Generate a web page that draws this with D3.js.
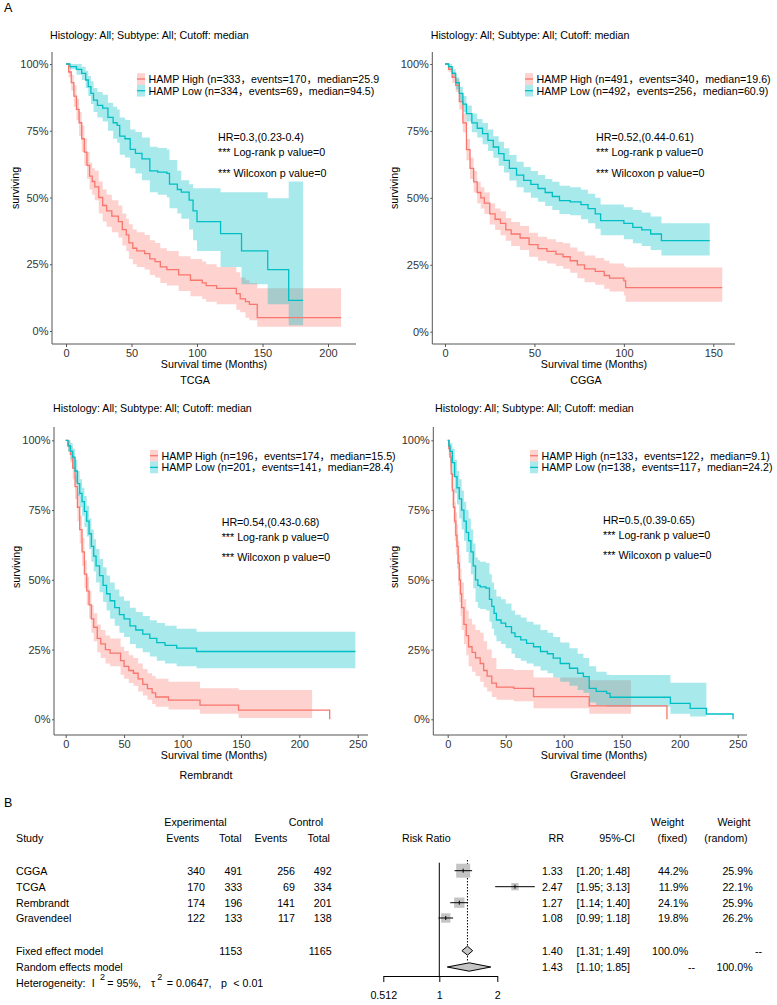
<!DOCTYPE html>
<html><head><meta charset="utf-8">
<script src="https://cdnjs.cloudflare.com/ajax/libs/d3/7.8.5/d3.min.js"></script>
<style>
body{margin:0;background:#fff;}
svg{display:block;font-family:"Liberation Sans",Arial,"Noto Sans CJK SC",sans-serif;}
</style></head><body>
<svg id="c" width="777" height="1005"></svg>
<script>
// ---------- Kaplan-Meier data: [time, surv, lower, upper] ----------
const tcgaHigh = [[0,1,1,1],[2,0.97,0.95,0.99],[4,0.93,0.9,0.96],[6,0.88,0.84,0.92],[8,0.83,0.79,0.87],[10,0.78,0.73,0.82],[12,0.72,0.67,0.77],[14,0.67,0.62,0.72],[16,0.62,0.57,0.67],[18,0.58,0.53,0.63],[20,0.56,0.51,0.61],[22,0.54,0.49,0.6],[25,0.5,0.44,0.56],[28,0.47,0.41,0.53],[31,0.45,0.39,0.51],[35,0.43,0.37,0.49],[40,0.41,0.35,0.47],[43,0.38,0.32,0.44],[46,0.36,0.3,0.42],[48,0.33,0.27,0.4],[51,0.31,0.25,0.38],[54,0.3,0.24,0.37],[60,0.29,0.23,0.36],[64,0.27,0.21,0.34],[68,0.26,0.2,0.33],[72,0.24,0.18,0.31],[77,0.23,0.17,0.3],[86,0.21,0.15,0.28],[95,0.19,0.13,0.27],[104,0.18,0.12,0.26],[107,0.17,0.11,0.25],[115,0.16,0.1,0.24],[130,0.14,0.08,0.22],[133,0.12,0.07,0.2],[137,0.11,0.05,0.19],[140,0.1,0.04,0.18],[146,0.05,0.016,0.16],[210,0.05,0.016,0.16]];
const tcgaLow = [[0,1,1,1],[3,0.99,0.98,1],[8,0.98,0.96,1],[12,0.965,0.94,0.99],[15,0.94,0.91,0.975],[17,0.915,0.88,0.955],[19,0.89,0.85,0.935],[21,0.865,0.82,0.91],[24,0.845,0.8,0.895],[28,0.835,0.785,0.885],[32,0.8,0.75,0.855],[36,0.78,0.72,0.84],[39,0.77,0.705,0.83],[41,0.73,0.66,0.8],[45,0.72,0.65,0.79],[49,0.68,0.61,0.755],[53,0.665,0.59,0.745],[58,0.645,0.565,0.725],[64,0.6,0.52,0.69],[70,0.595,0.51,0.685],[77,0.59,0.5,0.68],[79,0.55,0.46,0.64],[85,0.53,0.44,0.6],[88,0.52,0.42,0.565],[94,0.49,0.38,0.55],[97,0.45,0.34,0.535],[100,0.41,0.3,0.535],[118,0.365,0.24,0.52],[134,0.3,0.175,0.52],[154,0.23,0.1,0.497],[170,0.115,0.022,0.56],[181,0.115,0.022,0.56]];
const cggaHigh = [[0,1,1,1],[2,0.98,0.97,0.99],[4,0.95,0.93,0.97],[6,0.92,0.895,0.945],[8,0.86,0.83,0.89],[10,0.78,0.745,0.815],[12,0.68,0.64,0.72],[14,0.61,0.57,0.65],[16,0.56,0.52,0.6],[18,0.52,0.48,0.56],[20,0.5,0.46,0.54],[22,0.48,0.44,0.52],[25,0.44,0.4,0.48],[28,0.42,0.38,0.46],[31,0.405,0.36,0.45],[34,0.38,0.34,0.425],[37,0.365,0.32,0.41],[42,0.35,0.305,0.395],[47,0.325,0.28,0.37],[52,0.31,0.265,0.355],[57,0.3,0.255,0.345],[62,0.29,0.245,0.335],[66,0.28,0.235,0.33],[70,0.265,0.22,0.315],[74,0.25,0.2,0.3],[78,0.235,0.185,0.285],[84,0.225,0.175,0.275],[89,0.21,0.16,0.265],[92,0.2,0.15,0.255],[100,0.19,0.135,0.245],[101,0.165,0.112,0.24],[155,0.165,0.112,0.24]];
const cggaLow = [[0,1,1,1],[2,0.99,0.98,1],[4,0.965,0.95,0.98],[6,0.93,0.905,0.95],[8,0.89,0.865,0.915],[10,0.85,0.82,0.88],[12,0.815,0.785,0.845],[15,0.78,0.745,0.815],[18,0.76,0.725,0.795],[21,0.74,0.7,0.78],[24,0.715,0.675,0.755],[27,0.69,0.65,0.73],[30,0.665,0.62,0.71],[33,0.64,0.595,0.685],[36,0.61,0.565,0.66],[40,0.585,0.54,0.635],[44,0.565,0.52,0.615],[48,0.55,0.5,0.6],[52,0.535,0.485,0.585],[56,0.52,0.47,0.57],[60,0.505,0.455,0.56],[64,0.49,0.44,0.545],[70,0.485,0.435,0.54],[76,0.475,0.42,0.53],[80,0.46,0.405,0.515],[84,0.44,0.385,0.5],[87,0.415,0.36,0.475],[100,0.405,0.345,0.465],[105,0.39,0.33,0.455],[110,0.38,0.32,0.445],[115,0.365,0.305,0.43],[121,0.34,0.285,0.405],[148,0.34,0.285,0.405]];
const rembHigh = [[0,1,1,1],[2,0.98,0.96,1],[4,0.95,0.92,0.98],[6,0.9,0.86,0.94],[8,0.834,0.79,0.875],[10,0.76,0.71,0.81],[12,0.68,0.63,0.73],[14,0.6,0.55,0.65],[16,0.52,0.47,0.57],[18,0.46,0.41,0.51],[20,0.41,0.36,0.46],[22,0.36,0.31,0.41],[24,0.33,0.28,0.38],[27,0.29,0.24,0.34],[30,0.27,0.22,0.32],[34,0.25,0.2,0.3],[38,0.237,0.19,0.29],[45,0.237,0.19,0.29],[47,0.21,0.16,0.26],[50,0.19,0.145,0.245],[54,0.175,0.13,0.23],[58,0.165,0.12,0.22],[62,0.145,0.1,0.2],[66,0.125,0.085,0.18],[70,0.11,0.07,0.165],[74,0.095,0.055,0.155],[77,0.08,0.045,0.145],[88,0.069,0.035,0.135],[115,0.051,0.02,0.111],[148,0.033,0.005,0.105],[211,0.033,null,null],[226,0,null,null]];
const rembLow = [[0,1,1,1],[2,0.98,0.96,1],[4,0.96,0.93,0.99],[6,0.94,0.9,0.97],[8,0.89,0.85,0.93],[10,0.845,0.8,0.89],[12,0.81,0.76,0.86],[14,0.78,0.73,0.83],[16,0.745,0.69,0.8],[18,0.71,0.655,0.765],[20,0.665,0.61,0.72],[22,0.62,0.565,0.68],[24,0.585,0.53,0.645],[26,0.55,0.49,0.61],[29,0.515,0.455,0.575],[32,0.48,0.42,0.545],[35,0.45,0.39,0.515],[38,0.425,0.36,0.49],[42,0.4,0.335,0.465],[46,0.375,0.31,0.44],[50,0.36,0.295,0.425],[55,0.335,0.27,0.4],[60,0.32,0.255,0.385],[66,0.305,0.24,0.37],[72,0.29,0.225,0.355],[78,0.275,0.21,0.345],[85,0.265,0.2,0.335],[95,0.255,0.19,0.325],[112,0.243,0.183,0.314],[248,0.243,0.183,0.314]];
const gravHigh = [[0,1,1,1],[1,0.97,0.94,1],[2,0.94,0.9,0.98],[3,0.88,0.83,0.93],[4,0.82,0.76,0.88],[5,0.76,0.7,0.83],[6,0.71,0.64,0.78],[7,0.66,0.59,0.74],[8,0.62,0.54,0.7],[9,0.56,0.48,0.64],[10,0.5,0.42,0.59],[11,0.45,0.37,0.54],[12,0.4,0.32,0.49],[14,0.34,0.27,0.43],[16,0.3,0.23,0.39],[18,0.26,0.19,0.36],[21,0.24,0.17,0.34],[24,0.22,0.155,0.32],[28,0.2,0.135,0.31],[31,0.175,0.115,0.28],[34,0.155,0.1,0.25],[38,0.13,0.08,0.22],[42,0.115,0.07,0.18],[57,0.111,0.065,0.177],[74,0.081,0.04,0.15],[122,0.048,0.02,0.14],[158,0.048,null,null],[189,0,null,null]];
const gravLow = [[0,1,1,1],[1,0.98,0.96,1],[2,0.96,0.92,0.99],[4,0.92,0.87,0.97],[6,0.87,0.81,0.93],[8,0.83,0.77,0.89],[10,0.79,0.72,0.86],[12,0.75,0.68,0.82],[14,0.71,0.64,0.78],[16,0.67,0.6,0.75],[18,0.64,0.56,0.72],[20,0.6,0.52,0.68],[22,0.55,0.47,0.63],[24,0.5,0.42,0.58],[26,0.48,0.4,0.57],[28,0.475,0.395,0.565],[33,0.47,0.39,0.56],[36,0.43,0.35,0.52],[38,0.405,0.325,0.49],[40,0.38,0.3,0.465],[42,0.356,0.28,0.44],[46,0.345,0.27,0.43],[50,0.332,0.255,0.415],[55,0.31,0.235,0.39],[58,0.296,0.22,0.375],[63,0.285,0.21,0.365],[68,0.272,0.2,0.35],[74,0.26,0.19,0.34],[80,0.243,0.175,0.32],[86,0.235,0.165,0.31],[91,0.219,0.15,0.295],[97,0.2,0.135,0.275],[105,0.183,0.12,0.255],[112,0.165,0.105,0.235],[117,0.153,0.095,0.22],[122,0.111,0.06,0.19],[128,0.1,0.05,0.17],[137,0.093,0.045,0.16],[140,0.079,0.045,0.159],[192,0.057,0.02,0.131],[209,0.039,0.01,0.131],[223,0.019,null,null],[246,0,null,null]];

const datasetNames = ["TCGA","CGGA","Rembrandt","Gravendeel"];
const legendHigh = ["HAMP High (n=333，events=170，median=25.9","HAMP High (n=491，events=340，median=19.6)","HAMP High (n=196，events=174，median=15.5)","HAMP High (n=133，events=122，median=9.1)"];
const legendLow = ["HAMP Low (n=334，events=69，median=94.5)","HAMP Low (n=492，events=256，median=60.9)","HAMP Low (n=201，events=141，median=28.4)","HAMP Low (n=138，events=117，median=24.2)"];
const hrLabels = ["HR=0.3,(0.23-0.4)","HR=0.52,(0.44-0.61)","HR=0.54,(0.43-0.68)","HR=0.5,(0.39-0.65)"];
const xTickSets = [[0,50,100,150,200],[0,50,100,150],[0,50,100,150,200,250],[0,50,100,150,200,250]];
const yTicks = [0,0.25,0.5,0.75,1];
const subtitle = "Histology: All; Subtype: All; Cutoff: median";

// ---------- Forest plot data ----------
const studies = ["CGGA","TCGA","Rembrandt","Gravendeel"];
const expEvents = [340,170,174,122];
const expTotal = [491,333,196,133];
const ctrlEvents = [256,69,141,117];
const ctrlTotal = [492,334,201,138];
const rr = [1.33,2.47,1.27,1.08];
const ciLow = [1.20,1.95,1.14,0.99];
const ciHigh = [1.48,3.13,1.40,1.18];
const wFixed = [44.2,11.9,24.1,19.8];
const wRandom = [25.9,22.1,25.9,26.2];
const fixedModel = {rr:1.40, lo:1.31, hi:1.49, total:[1153,1165]};
const randomModel = {rr:1.43, lo:1.10, hi:1.85};
const forestTicks = [0.512,1,2];

// ---------- drawing ----------
const RED = "#F8766D", TEAL = "#00BFC4";
const svg = d3.select("#c");
svg.append("rect").attr("width",777).attr("height",1005).attr("fill","#fff");

const layouts = [
 {axX:52, axTop:52, axBottom:344, axRight:356, x0:66, xMaxTick:200, xMaxPx:328, y0:331, y1:64, sub:[50,35], leg:[137,79], hr:[218,137], xlab:[214,364], name:[195,379.5], ylab:[15,188]},
 {axX:432.3, axTop:52, axBottom:344, axRight:735, x0:445, xMaxTick:150, xMaxPx:713.3, y0:331.7, y1:64, sub:[430.7,35], leg:[525,79], hr:[596,137], xlab:[594,364], name:[586,379.5], ylab:[394,188]},
 {axX:54, axTop:427, axBottom:735, axRight:368, x0:65.7, xMaxTick:250, xMaxPx:357.7, y0:719.3, y1:440.3, sub:[53,408], leg:[150,455.7], hr:[221.7,521.7], xlab:[214,755], name:[206,774.5], ylab:[16,567]},
 {axX:433.3, axTop:427, axBottom:735, axRight:747, x0:447.7, xMaxTick:250, xMaxPx:737.7, y0:719.3, y1:440.3, sub:[435,408], leg:[530,455.7], hr:[603,519.7], xlab:[594,755], name:[598,774.5], ylab:[394,567]}
];
const curves = [[tcgaHigh,tcgaLow],[cggaHigh,cggaLow],[rembHigh,rembLow],[gravHigh,gravLow]];

function bandData(pts){
  const b = pts.filter(p => p[2] != null);
  const n = b.length;
  if (n < pts.length) b.push([pts[n][0], b[n-1][1], b[n-1][2], b[n-1][3]]);
  return b;
}

const FS = 10.7;
svg.append("text").attr("x",4).attr("y",8).attr("dominant-baseline","central").attr("font-size",12.5).text("A");

// text with full-width separators laid out at 1em each
function sepText(parent, x0, cy, str, fs){
  const t = parent.append("text").attr("y",cy).attr("dominant-baseline","central").attr("font-size",fs);
  let cx = x0;
  str.split("，").forEach((p, j) => {
    if (j > 0) { t.append("tspan").attr("x",cx).text("，"); cx += fs; }
    const ts = t.append("tspan").attr("x",cx).text(p);
    cx += ts.node().getComputedTextLength();
  });
  return {node: t, width: cx - x0};
}
// fit legend font so the CGGA legend line spans the reference width (234 px)
const probe = sepText(svg, 0, -50, legendHigh[1], FS);
const LFS = Math.max(10, Math.min(12.5, FS * 234 / probe.width));
probe.node.remove();

layouts.forEach((L, i) => {
  const g = svg.append("g");
  const x = d3.scaleLinear().domain([0, L.xMaxTick]).range([L.x0, L.xMaxPx]);
  const y = d3.scaleLinear().domain([0, 1]).range([L.y0, L.y1]);
  const area = d3.area().curve(d3.curveStepAfter).x(d => x(d[0])).y0(d => y(d[2])).y1(d => y(d[3]));
  const line = d3.line().curve(d3.curveStepAfter).x(d => x(d[0])).y(d => y(d[1]));
  const [hi, lo] = curves[i];
  g.append("path").attr("d", area(bandData(hi))).attr("fill", RED).attr("fill-opacity", 0.33);
  g.append("path").attr("d", area(bandData(lo))).attr("fill", TEAL).attr("fill-opacity", 0.34);
  g.append("path").attr("d", line(hi)).attr("fill","none").attr("stroke", RED).attr("stroke-width",1.3);
  g.append("path").attr("d", line(lo)).attr("fill","none").attr("stroke", TEAL).attr("stroke-width",1.3);

  // axes
  g.append("line").attr("x1",L.axX).attr("x2",L.axRight).attr("y1",L.axBottom).attr("y2",L.axBottom).attr("stroke","#555").attr("stroke-width",1);
  g.append("line").attr("x1",L.axX).attr("x2",L.axX).attr("y1",L.axTop).attr("y2",L.axBottom).attr("stroke","#555").attr("stroke-width",1);
  const xa = g.append("g").attr("transform",`translate(0,${L.axBottom})`)
    .call(d3.axisBottom(x).tickValues(xTickSets[i]).tickSize(3).tickPadding(2));
  xa.select(".domain").remove();
  xa.selectAll("line").attr("stroke","#555");
  xa.selectAll("text").attr("font-size",11).attr("fill","#333").attr("font-family",null);
  const ya = g.append("g").attr("transform",`translate(${L.axX},0)`)
    .call(d3.axisLeft(y).tickValues(yTicks).tickFormat(d3.format(".0%")).tickSize(2).tickPadding(1.5));
  ya.select(".domain").remove();
  ya.selectAll("line").attr("stroke","#555");
  ya.selectAll("text").attr("font-size",11).attr("fill","#333").attr("font-family",null);

  // texts
  g.append("text").attr("x",L.sub[0]).attr("y",L.sub[1]).attr("dominant-baseline","central").attr("font-size",FS).text(subtitle);
  g.append("text").attr("x",L.xlab[0]).attr("y",L.xlab[1]).attr("text-anchor","middle").attr("dominant-baseline","central").attr("font-size",FS).text("Survival time (Months)");
  g.append("text").attr("x",L.name[0]).attr("y",L.name[1]).attr("text-anchor","middle").attr("dominant-baseline","central").attr("font-size",FS).text(datasetNames[i]);
  g.append("text").attr("transform",`translate(${L.ylab[0]},${L.ylab[1]}) rotate(-90)`).attr("text-anchor","middle").attr("dominant-baseline","central").attr("font-size",FS).text("surviving");

  // legend
  [[legendHigh[i], RED],[legendLow[i], TEAL]].forEach(([txt, col], k) => {
    const cy = L.leg[1] + k*11.7;
    g.append("rect").attr("x",L.leg[0]).attr("y",cy-5.85).attr("width",8).attr("height",11.7).attr("fill",col).attr("fill-opacity",0.33);
    g.append("line").attr("x1",L.leg[0]).attr("x2",L.leg[0]+8).attr("y1",cy).attr("y2",cy).attr("stroke",col).attr("stroke-width",1.3);
    sepText(g, L.leg[0]+11.5, cy, txt, LFS);
  });
  // HR
  [hrLabels[i], "*** Log-rank p value=0", "*** Wilcoxon p value=0"].forEach((t,k) => {
    g.append("text").attr("x",L.hr[0]).attr("y",L.hr[1] + [0,15,35.5][k]).attr("dominant-baseline","central").attr("font-size",FS).text(t);
  });
});

// ---------- Forest plot ----------
const fg = svg.append("g").attr("font-size",FS);
function txt(x, y, s, anchor){ return fg.append("text").attr("x",x).attr("y",y).attr("dominant-baseline","central").attr("text-anchor",anchor||"start").text(s); }
txt(4, 802.7, "B").attr("font-size",12.5);
const hY1 = 821.7, hY2 = 838;
txt(195.5, hY1, "Experimental", "middle");
txt(306, hY1, "Control", "middle");
txt(16, hY2, "Study");
txt(199, hY2, "Events", "end");
txt(241.7, hY2, "Total", "end");
txt(287.3, hY2, "Events", "end");
txt(330, hY2, "Total", "end");
txt(426.3, hY2, "Risk Ratio", "middle");
txt(564, hY2, "RR", "end");
txt(635, hY2, "95%-CI", "end");
txt(667.4, hY1, "Weight", "middle");
txt(687.3, hY2, "(fixed)", "end");
txt(734, hY1, "Weight", "middle");
txt(747.7, hY2, "(random)", "end");

const rowY = [870.7, 886.7, 902.7, 918];
const fixedY = 950.7, randomY = 967, hetY = 983;
const f2 = d3.format(".2f"), f1 = d3.format(".1f");
studies.forEach((s, i) => {
  const yy = rowY[i];
  txt(16, yy, s);
  txt(205, yy, expEvents[i], "end");
  txt(242.3, yy, expTotal[i], "end");
  txt(295, yy, ctrlEvents[i], "end");
  txt(331.7, yy, ctrlTotal[i], "end");
  txt(562.7, yy, f2(rr[i]), "end");
  txt(630, yy, `[${f2(ciLow[i])}; ${f2(ciHigh[i])}]`, "end");
  txt(688.3, yy, f1(wFixed[i]) + "%", "end");
  txt(752.7, yy, f1(wRandom[i]) + "%", "end");
});
txt(16, fixedY, "Fixed effect model");
txt(242.3, fixedY, fixedModel.total[0], "end");
txt(331.7, fixedY, fixedModel.total[1], "end");
txt(562.7, fixedY, f2(fixedModel.rr), "end");
txt(630, fixedY, `[${f2(fixedModel.lo)}; ${f2(fixedModel.hi)}]`, "end");
txt(688.3, fixedY, "100.0%", "end");
txt(762, fixedY, "--", "end");
txt(16, randomY, "Random effects model");
txt(562.7, randomY, f2(randomModel.rr), "end");
txt(630, randomY, `[${f2(randomModel.lo)}; ${f2(randomModel.hi)}]`, "end");
txt(695, randomY, "--", "end");
txt(752.7, randomY, "100.0%", "end");

// heterogeneity
txt(16, hetY, "Heterogeneity:");
txt(91.7, hetY, "I");
txt(100, hetY-6, "2").attr("font-size",9);
txt(107.3, hetY, "= 95%,");
txt(151, hetY, "τ");
txt(157.3, hetY-6, "2").attr("font-size",9);
txt(166.7, hetY, "= 0.0647,");
txt(221, hetY, "p");
txt(233.3, hetY, "< 0.01");

// graphic
const fx = d3.scaleLog().domain([0.512, 2]).range([383.3, 497.3]);
const boxSize = d3.scaleSqrt().domain([0, 100]).range([0, 21]);
const axY = 976;
fg.append("line").attr("x1",fx(1)).attr("x2",fx(1)).attr("y1",862.7).attr("y2",axY).attr("stroke","#000");
fg.append("line").attr("x1",fx(fixedModel.rr)).attr("x2",fx(fixedModel.rr)).attr("y1",860).attr("y2",961).attr("stroke","#000").attr("stroke-dasharray","1.5,1.5");
studies.forEach((s, i) => {
  const yy = rowY[i], b = boxSize(wFixed[i]);
  fg.append("rect").attr("x",fx(rr[i])-b/2).attr("y",yy-b/2).attr("width",b).attr("height",b).attr("fill","#c4c4c4");
  fg.append("line").attr("x1",fx(ciLow[i])).attr("x2",fx(ciHigh[i])).attr("y1",yy).attr("y2",yy).attr("stroke","#000");
  fg.append("line").attr("x1",fx(rr[i])).attr("x2",fx(rr[i])).attr("y1",yy-2).attr("y2",yy+2).attr("stroke","#000");
});
function diamond(m, yy, h){
  const p = [[fx(m.lo),yy],[fx(m.rr),yy-h],[fx(m.hi),yy],[fx(m.rr),yy+h]];
  fg.append("path").attr("d","M"+p.map(q=>q.join(",")).join("L")+"Z").attr("fill","#c4c4c4").attr("stroke","#000").attr("stroke-width",1);
}
diamond(fixedModel, fixedY, 4.5);
diamond(randomModel, randomY, 4.2);
// forest axis
const fa = fg.append("g").attr("transform",`translate(0,${axY})`)
  .call(d3.axisBottom(fx).tickValues(forestTicks).tickFormat(d => String(d)).tickSize(6).tickPadding(9).tickSizeOuter(0));
fa.select(".domain").attr("stroke","#000");
fa.selectAll("line").attr("stroke","#000");
fa.selectAll("text").attr("font-size",FS).attr("font-family",null).attr("fill","#000");
</script>
</body></html>
